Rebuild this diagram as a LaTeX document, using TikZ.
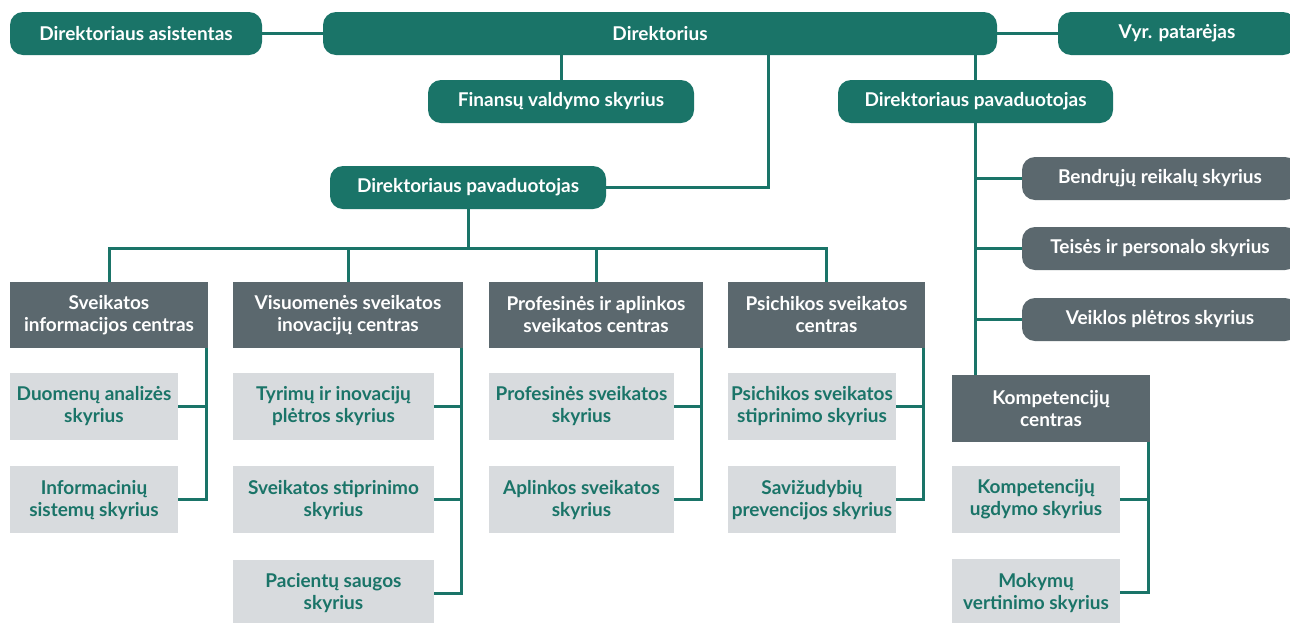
\documentclass[tikz,border=0pt]{standalone}
\usepackage{fontspec}
\setmainfont{Lato}
\usetikzlibrary{positioning,backgrounds}
\definecolor{orgteal}{RGB}{26,116,104}
\definecolor{orggrey}{RGB}{91,104,110}
\definecolor{orglight}{RGB}{216,219,222}

\begin{document}
\begin{tikzpicture}
    [x=1pt,y=-1pt,
    font=\fontsize{19}{22}\selectfont\bfseries,
    head/.style={rectangle,rounded corners=13pt,fill=orgteal,text=white,
                 inner sep=0pt,minimum height=43pt},
    unit/.style={head,fill=orggrey},
    centre/.style={rectangle,fill=orggrey,text=white,align=center,
                   inner sep=0pt,minimum height=66pt},
    dept/.style={rectangle,fill=orglight,text=orgteal,align=center,
                 inner sep=0pt,minimum height=67pt},
    link/.style={draw=orgteal,line width=3pt}]

    \useasboundingbox (0,0) rectangle (1290,622);

    % top level
    \node[head,minimum width=252pt] (asist) at (136,33.5) {Direktoriaus asistentas};
    \node[head,minimum width=674pt] (dir)   at (660,33.5) {Direktorius};
    \node[head,minimum width=238pt] (vyr)   at (1177,33.5) {Vyr. patarėjas};
    \node[head,minimum width=266pt] (fin)   at (561,101.5) {Finansų valdymo skyrius};
    \node[head,minimum width=275pt] (pavR)  at (975.5,101.5) {Direktoriaus pavaduotojas};
    \node[head,minimum width=276pt] (pavL)  at (468,187.5) {Direktoriaus pavaduotojas};

    % centres
    \node[centre,minimum width=198pt] (sic)  at (109,315)   {Sveikatos\\informacijos centras};
    \node[centre,minimum width=230pt] (vsic) at (348,315)   {Visuomenės sveikatos\\inovacijų centras};
    \node[centre,minimum width=214pt] (pasc) at (596,315)   {Profesinės ir aplinkos\\sveikatos centras};
    \node[centre,minimum width=197pt] (psc)  at (826.5,315) {Psichikos sveikatos\\centras};
    \node[centre,minimum width=198pt,minimum height=67pt] (komp) at (1051,408.5) {Kompetencijų\\centras};

    % departments
    \node[dept,minimum width=168pt] (duom) at (94,406.5) {Duomenų analizės\\skyrius};
    \node[dept,minimum width=168pt] (info) [below=26pt of duom] {Informacinių\\sistemų skyrius};
    \node[dept,minimum width=201pt] (tyr)  at (333.5,406.5) {Tyrimų ir inovacijų\\plėtros skyrius};
    \node[dept,minimum width=201pt] (sst)  [below=26pt of tyr] {Sveikatos stiprinimo\\skyrius};
    \node[dept,minimum width=201pt] (pac)  [below=26pt of sst] {Pacientų saugos\\skyrius};
    \node[dept,minimum width=185pt] (prof) at (581.5,406.5) {Profesinės sveikatos\\skyrius};
    \node[dept,minimum width=185pt] (apl)  [below=26pt of prof] {Aplinkos sveikatos\\skyrius};
    \node[dept,minimum width=168pt] (psst) at (812,406.5) {Psichikos sveikatos\\stiprinimo skyrius};
    \node[dept,minimum width=168pt] (sav)  [below=26pt of psst] {Savižudybių\\prevencijos skyrius};
    \node[dept,minimum width=168pt] (kug)  at (1036,499.5) {Kompetencijų\\ugdymo skyrius};
    \node[dept,minimum width=168pt] (mok)  [below=26pt of kug] {Mokymų\\vertinimo skyrius};

    % units of the right deputy
    \node[unit,minimum width=276pt] (bendr)  at (1160,178.5) {Bendrųjų reikalų skyrius};
    \node[unit,minimum width=276pt] (teis)   at (1160,248.5) {Teisės ir personalo skyrius};
    \node[unit,minimum width=276pt] (veikl)  at (1160,319.5) {Veiklos plėtros skyrius};

    \coordinate (dirjoint) at (768,55);
    \coordinate (bus) at (468,248);

    \begin{scope}[on background layer]
        \fill[white] (0,0) rectangle (1290,622);
        \draw[link] (asist.east) -- (dir.west);
        \draw[link] (dir.east) -- (vyr.west);
        \draw[link] (fin.north) -- (fin.north |- dir.south);
        \draw[link] (pavR.north) -- (pavR.north |- dir.south);
        \draw[link] (pavR.south) -- (pavR.south |- komp.north);
        \draw[link] (pavL.east) -| (dirjoint);
        \draw[link] (pavL.south) -- (bus);
        \draw[link] (sic.north) |- (bus) -| (psc.north);
        \draw[link] (vsic.north) -- (vsic.north |- bus);
        \draw[link] (pasc.north) -- (pasc.north |- bus);
        \foreach \u in {bendr,teis,veikl}
            \draw[link] (\u.west) -- (\u.west -| pavR.south);
        % centre to departments
        \draw[link] (duom.east) -| ([xshift=-1.5pt]sic.south east);
        \draw[link] (info.east) -| ([xshift=-1.5pt]sic.south east);
        \draw[link] (tyr.east) -| ([xshift=-1.5pt]vsic.south east);
        \draw[link] (sst.east) -| ([xshift=-1.5pt]vsic.south east);
        \draw[link] (pac.east) -| ([xshift=-1.5pt]vsic.south east);
        \draw[link] (prof.east) -| ([xshift=-1.5pt]pasc.south east);
        \draw[link] (apl.east) -| ([xshift=-1.5pt]pasc.south east);
        \draw[link] (psst.east) -| ([xshift=-1.5pt]psc.south east);
        \draw[link] (sav.east) -| ([xshift=-1.5pt]psc.south east);
        \draw[link] (kug.east) -| ([xshift=-1.5pt]komp.south east);
        \draw[link] (mok.east) -| ([xshift=-1.5pt]komp.south east);
    \end{scope}
\end{tikzpicture}
\end{document}
